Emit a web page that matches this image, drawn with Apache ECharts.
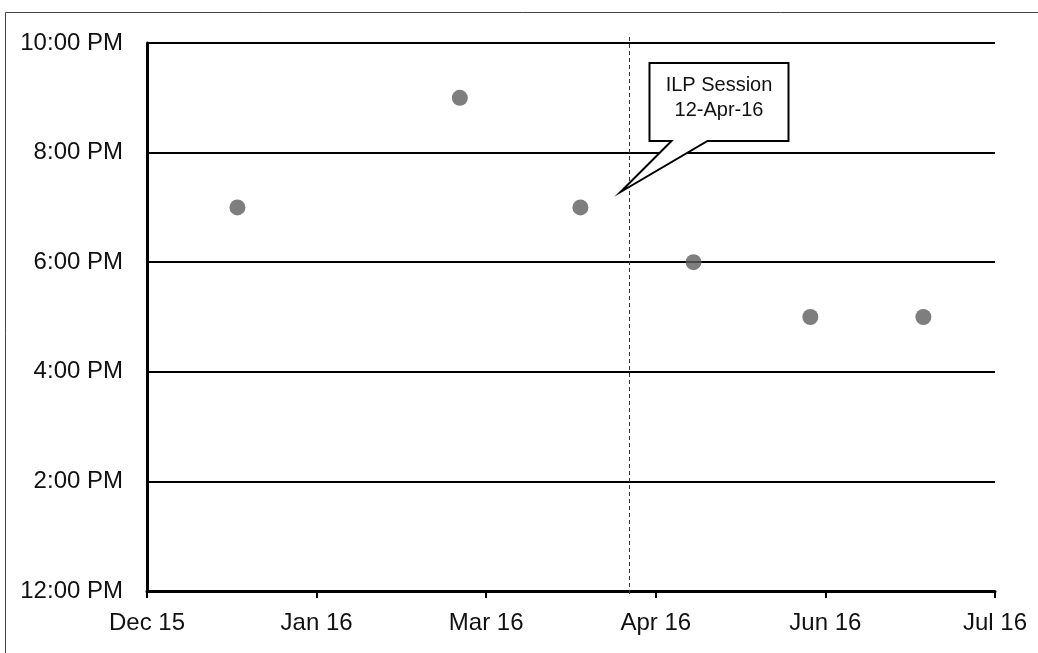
<!DOCTYPE html>
<html>
<head>
<meta charset="utf-8">
<script src="https://cdn.jsdelivr.net/npm/echarts@6/dist/echarts.min.js"></script>
<style>
html,body{margin:0;padding:0;background:#fff;}
#c{width:1038px;height:653px;}
</style>
</head>
<body>
<div id="c"></div>
<script>
// ---- data ----
const xTickLabels = ['Dec 15', 'Jan 16', 'Mar 16', 'Apr 16', 'Jun 16', 'Jul 16'];
const yTickLabels = ['12:00 PM', '2:00 PM', '4:00 PM', '6:00 PM', '8:00 PM', '10:00 PM'];
const axisStartDate = '2015-12-06';
const tickDays = 45;
const dates = ['2015-12-30', '2016-02-27', '2016-03-30', '2016-04-29', '2016-05-30', '2016-06-29'];
const hours = [19, 21, 19, 18, 17, 17];
const sessionDate = '2016-04-12';
const sessionLabel = ['ILP Session', '12-Apr-16'];

// ---- helpers ----
function dayOffset(s) {
  const a = s.split('-').map(Number), b = axisStartDate.split('-').map(Number);
  return (Date.UTC(a[0], a[1] - 1, a[2]) - Date.UTC(b[0], b[1] - 1, b[2])) / 86400000;
}
const points = dates.map((d, i) => [dayOffset(d), hours[i]]);
const sessionDay = dayOffset(sessionDate);
const FONT = "'Liberation Sans', Arial, sans-serif";
const TXT = '#111';

const chart = echarts.init(document.getElementById('c'), null, { renderer: 'canvas' });
chart.setOption({
  animation: false,
  backgroundColor: '#fff',
  graphic: [{
    type: 'rect', z: 0, silent: true,
    shape: { x: 5.5, y: 12.5, width: 1100, height: 700 },
    style: { fill: 'none', stroke: '#444', lineWidth: 1 }
  }],
  grid: { left: 147, right: 43, top: 43, bottom: 62 },
  xAxis: {
    type: 'value', min: 0, max: tickDays * (xTickLabels.length - 1), interval: tickDays,
    axisLine: { show: true, lineStyle: { color: '#000', width: 3 } },
    axisTick: { show: true, length: 7, lineStyle: { color: '#000', width: 2 } },
    splitLine: { show: false },
    axisLabel: {
      fontSize: 24, fontFamily: FONT, color: TXT, margin: 20,
      formatter: v => xTickLabels[Math.round(v / tickDays)] || ''
    }
  },
  yAxis: {
    type: 'value', min: 12, max: 22, interval: 2,
    axisLine: { show: true, lineStyle: { color: '#000', width: 3 } },
    axisTick: { show: false },
    splitLine: { show: true, lineStyle: { color: '#000', width: 2 } },
    axisLabel: {
      fontSize: 24, fontFamily: FONT, color: TXT, margin: 24,
      formatter: v => yTickLabels[Math.round((v - 12) / 2)] || ''
    }
  },
  series: [
    {
      type: 'custom', z: 3, silent: true, clip: false,
      data: [[sessionDay, 12]],
      renderItem: function (params, api) {
        const p = api.coord([api.value(0), api.value(1)]);
        const cs = params.coordSys;
        const L = Math.round(p[0]) + 0.5;
        const top = cs.y;
        const bot = cs.y + cs.height;
        const bTop = top + 20, bBot = top + 98, tipY = top + 149;
        return {
          type: 'group',
          children: [
            {
              type: 'line',
              shape: { x1: L, y1: top - 6, x2: L, y2: bot + 6 },
              style: { stroke: '#333', lineWidth: 1, lineDash: [4, 3] }
            },
            {
              type: 'polygon',
              shape: {
                points: [
                  [L + 20, bBot], [L + 20, bTop], [L + 159, bTop], [L + 159, bBot],
                  [L + 78, bBot], [L - 9, tipY], [L + 42, bBot]
                ]
              },
              style: { fill: '#fff', stroke: '#000', lineWidth: 2 }
            },
            {
              type: 'text',
              style: {
                x: L + 89.5, y: bTop + 22, text: sessionLabel[0],
                fill: TXT, font: '20px ' + FONT, align: 'center', verticalAlign: 'middle'
              }
            },
            {
              type: 'text',
              style: {
                x: L + 89.5, y: bTop + 47, text: sessionLabel[1],
                fill: TXT, font: '20px ' + FONT, align: 'center', verticalAlign: 'middle'
              }
            }
          ]
        };
      }
    },
    {
      type: 'scatter', z: 4,
      data: points,
      symbol: 'circle', symbolSize: 16,
      itemStyle: { color: '#5e5e5e' }
    }
  ]
});
</script>
</body>
</html>
